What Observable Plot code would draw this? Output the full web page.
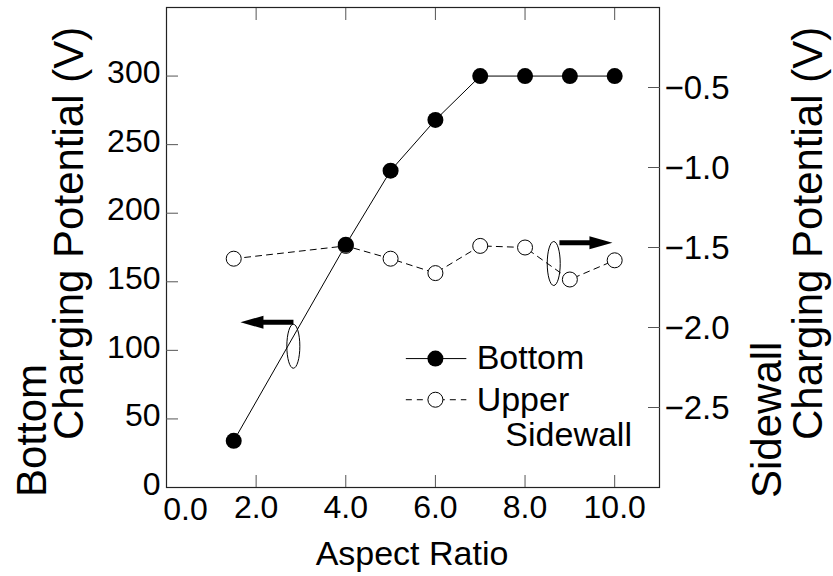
<!DOCTYPE html>
<html><head><meta charset="utf-8">
<script src="https://cdn.jsdelivr.net/npm/d3@7"></script>
<script src="https://cdn.jsdelivr.net/npm/@observablehq/plot@0.6"></script>
<style>body{margin:0;background:#fff} svg{display:block}</style>
</head><body><div id="chart"></div>
<script>
// ---- data ----
const aspectRatio = [1.5, 4, 5, 6, 7, 8, 9, 10];
const bottomPotential = [34, 177, 231, 268, 300, 300, 300, 300];
const sidewallPotential = [-1.57, -1.49, -1.57, -1.66, -1.49, -1.50, -1.70, -1.58];
const xTickValues = [0, 2, 4, 6, 8, 10];
const xTickMarks = [2, 4, 6, 8, 10];
const leftTickValues = [0, 50, 100, 150, 200, 250, 300];
const rightTickValues = [-0.5, -1.0, -1.5, -2.0, -2.5];
const xDomain = [0, 11];
const leftDomain = [0, 350];
const rightDomain = [-3, 0];
// annotations (data coordinates)
const arrowTips = [{x: 1.65, left: 120.5, dir: "left"}, {x: 9.95, right: -1.47, dir: "right"}];
const ellipseCenters = [{x: 2.83, left: 103}, {x: 8.64, right: -1.6}];
const legendRows = [{label: "Bottom", left: 94, filled: true}, {label: "Upper", left: 64, filled: false}];
const legendLineX = [5.34, 6.69];
const legendMarkerX = 6.0;
const legendTextX = 6.92;
const legendExtra = [{label: "Sidewall", x: 7.56, left: 38.5}];

const FONT = '"Liberation Sans", Arial, Helvetica, sans-serif';
const toLeft = v => (v - rightDomain[0]) / (rightDomain[1] - rightDomain[0]) * (leftDomain[1] - leftDomain[0]) + leftDomain[0];
const yOf = d => d.left !== undefined ? d.left : toLeft(d.right);

const bottomData = aspectRatio.map((x, i) => ({x, y: bottomPotential[i]}));
const sideData = aspectRatio.map((x, i) => ({x, y: toLeft(sidewallPotential[i])}));

const ellipseSymbol = {draw(ctx) {
  const rx = 6.5, ry = 22, k = 0.5523;
  ctx.moveTo(rx, 0);
  ctx.bezierCurveTo(rx, ry * k, rx * k, ry, 0, ry);
  ctx.bezierCurveTo(-rx * k, ry, -rx, ry * k, -rx, 0);
  ctx.bezierCurveTo(-rx, -ry * k, -rx * k, -ry, 0, -ry);
  ctx.bezierCurveTo(rx * k, -ry, rx, -ry * k, rx, 0);
  ctx.closePath();
}};
const arrowSymbol = {draw(ctx) {
  const L = 53, hl = 23, hw = 6.5, sw = 2.5;
  ctx.moveTo(0, 0); ctx.lineTo(-hl, -hw); ctx.lineTo(-hl, -sw); ctx.lineTo(-L, -sw);
  ctx.lineTo(-L, sw); ctx.lineTo(-hl, sw); ctx.lineTo(-hl, hw); ctx.closePath();
}};

const filledRows = legendRows.filter(d => d.filled);
const openRows = legendRows.filter(d => !d.filled);

const plot = Plot.plot({
  width: 833, height: 576,
  marginLeft: 166, marginRight: 174, marginTop: 7, marginBottom: 89,
  style: {fontFamily: FONT, color: "black", background: "white"},
  x: {domain: xDomain},
  y: {domain: leftDomain},
  marks: [
    Plot.frame({stroke: "#222", strokeWidth: 1.2}),
    // inward tick marks
    Plot.axisX({anchor: "bottom", ticks: xTickMarks, tickSize: 12, dy: -12, text: null, label: null, stroke: "#555"}),
    Plot.axisX({anchor: "top", ticks: xTickMarks, tickSize: 12, dy: 12, text: null, label: null, stroke: "#555"}),
    Plot.axisY({anchor: "left", ticks: leftTickValues.filter(d => d > 0), tickSize: 12, dx: 12, text: null, label: null, stroke: "#555"}),
    Plot.axisY({anchor: "right", ticks: rightTickValues.map(toLeft), tickSize: 12, dx: -12, text: null, label: null, stroke: "#555"}),
    // tick labels
    Plot.axisX({anchor: "bottom", ticks: xTickValues.filter(d => d > 0), tickSize: 0, tickPadding: 8, tickFormat: d => d.toFixed(1), fontSize: 32, label: null}),
    Plot.axisX({anchor: "bottom", ticks: xTickValues.filter(d => d === 0), tickSize: 0, tickPadding: 10, dx: 19, tickFormat: d => d.toFixed(1), fontSize: 32, label: null}),
    Plot.axisY({anchor: "left", ticks: leftTickValues, tickSize: 0, tickPadding: 6, dy: -3, tickFormat: d => String(d), fontSize: 32, label: null}),
    Plot.axisY({anchor: "right", ticks: rightTickValues.map(toLeft), tickSize: 0, tickPadding: 5, dy: 1,
      tickFormat: (d, i) => "\u2212" + Math.abs(rightTickValues[i]).toFixed(1), fontSize: 33, label: null}),
    // series
    Plot.line(sideData, {x: "x", y: "y", stroke: "black", strokeWidth: 1, strokeDasharray: "6,5"}),
    Plot.line(bottomData, {x: "x", y: "y", stroke: "black", strokeWidth: 1}),
    Plot.dot(sideData, {x: "x", y: "y", r: 7.5, fill: "white", stroke: "black", strokeWidth: 1}),
    Plot.dot(bottomData, {x: "x", y: "y", r: 8, fill: "black", stroke: "none"}),
    // annotations
    Plot.dot(ellipseCenters, {x: "x", y: yOf, symbol: ellipseSymbol, r: 1, fill: "none", stroke: "black", strokeWidth: 1}),
    Plot.dot(arrowTips, {x: "x", y: yOf, symbol: arrowSymbol, r: 1, fill: "black", stroke: "none", rotate: d => d.dir === "left" ? 180 : 0}),
    // legend
    Plot.link(filledRows, {x1: () => legendLineX[0], x2: () => legendLineX[1], y1: "left", y2: "left", stroke: "black", strokeWidth: 1}),
    Plot.link(openRows, {x1: () => legendLineX[0], x2: () => legendLineX[1], y1: "left", y2: "left", stroke: "black", strokeWidth: 1, strokeDasharray: "6,5"}),
    Plot.dot(filledRows, {x: () => legendMarkerX, y: "left", r: 8, fill: "black"}),
    Plot.dot(openRows, {x: () => legendMarkerX, y: "left", r: 7.5, fill: "white", stroke: "black", strokeWidth: 1}),
    Plot.text(legendRows, {x: () => legendTextX, y: "left", text: "label", textAnchor: "start", fontSize: 34, fill: "black"}),
    Plot.text(legendExtra, {x: "x", y: "left", text: "label", textAnchor: "start", fontSize: 34, fill: "black"})
  ]
});
document.getElementById("chart").appendChild(plot);

// axis titles
const svg = d3.select(plot);
const titles = [
  {text: "Aspect Ratio", x: 412, y: 565, rot: 0, anchor: "middle", size: 34},
  {text: "Bottom", x: 46, y: 497, rot: -90, anchor: "start", size: 42},
  {text: "Charging Potential (V)", x: 83, y: 440, rot: -90, anchor: "start", size: 42},
  {text: "Sidewall", x: 781, y: 498, rot: -90, anchor: "start", size: 42},
  {text: "Charging Potential (V)", x: 822, y: 440, rot: -90, anchor: "start", size: 42}
];
svg.append("g").selectAll("text").data(titles).join("text")
  .attr("transform", d => `translate(${d.x},${d.y}) rotate(${d.rot})`)
  .attr("text-anchor", d => d.anchor)
  .attr("font-family", FONT)
  .attr("font-size", d => d.size)
  .attr("fill", "black")
  .text(d => d.text);
</script>
</body></html>
